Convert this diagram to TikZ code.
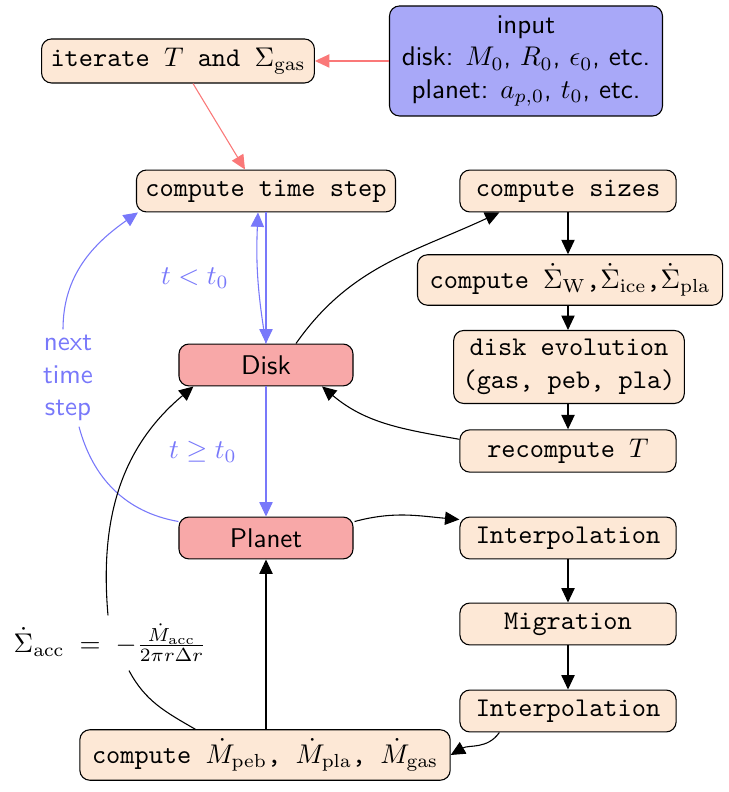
\documentclass[tikz,border=0pt]{standalone}
\usetikzlibrary{arrows.meta,calc}
\definecolor{boxorange}{RGB}{253,232,214}
\definecolor{boxred}{RGB}{248,168,168}
\definecolor{boxblue}{RGB}{168,168,248}
\definecolor{edgeblue}{RGB}{120,120,250}
\definecolor{edgered}{RGB}{250,120,120}
\tikzset{
  tip/.style={-{Triangle[length=5.3pt,width=4.9pt]}},
  obox/.style={draw, rounded corners=3.7pt, fill=boxorange, font=\ttfamily, minimum height=15.5pt, minimum width=80pt, inner sep=3.3pt, align=center},
  rbox/.style={draw, rounded corners=3.7pt, fill=boxred, font=\sffamily, minimum height=15.5pt, minimum width=64.4pt},
  bbox/.style={draw, rounded corners=3.7pt, fill=boxblue, font=\sffamily, minimum width=101pt, minimum height=40.7pt, align=center, inner sep=2pt},
  bline/.style={draw=edgeblue, tip, color=edgeblue},
  rline/.style={draw=edgered, tip, color=edgered},
  kline/.style={draw=black, tip},
  plainb/.style={draw=edgeblue},
  plaink/.style={draw=black},
}
\begin{document}
\begin{tikzpicture}[x=0.37pt,y=0.37pt]
\useasboundingbox (0,0) rectangle (728,792);
% nodes
\node[obox] (it) at (178,731) {iterate $T$ and $\Sigma_{\rm gas}$};
\node[bbox] (input) at (526,731) {input\\disk: $M_0$, $R_0$, $\epsilon_0$, etc.\\planet: $a_{p,0}$, $t_0$, etc.};
\node[obox] (cts) at (266,601) {compute time step};
\node[obox] (cs) at (568,601) {compute sizes};
\node[obox, inner xsep=4.5pt] (sd) at (570,512) {compute $\dot\Sigma_{\rm W}$,$\dot\Sigma_{\rm ice}$,$\dot\Sigma_{\rm pla}$};
\node[obox] (de) at (569,425) {disk evolution\\(gas, peb, pla)};
\node[obox] (rt) at (568,341) {recompute $T$};
\node[rbox] (disk) at (266,427) {Disk};
\node[rbox] (planet) at (266,254) {Planet};
\node[obox] (ip1) at (568,254) {Interpolation};
\node[obox] (mig) at (568,168) {Migration};
\node[obox] (ip2) at (568,81) {Interpolation};
\node[obox, minimum height=18pt, inner xsep=4.5pt] (cm) at (265,37) {compute $\dot M_{\rm peb}$, $\dot M_{\rm pla}$, $\dot M_{\rm gas}$};
\node[font=\sffamily, text=edgeblue, align=center, inner sep=2pt] (nts) at (68,414) {next\\time\\step};
\node[inner sep=3pt] (nacc) at (110,149) {$\dot\Sigma_{\rm acc}\;=\;-\frac{\dot M_{\rm acc}}{2\pi r\Delta r}$};
\node[text=edgeblue] (tlt) at (195,514) {$t<t_0$};
\node[text=edgeblue] (tge) at (203,340) {$t\geq t_0$};
% red edges
\draw[rline] (input.west) -- (it.east);
\draw[rline] ($(it.south)+(15,0)$) -- ($(cts.north)+(-21,0)$);
% blue edges
\draw[bline] (cts.south) -- (disk.north);
\draw[bline] (disk.north) to[bend left=6] ($(cts.south)+(-8,0)$);
\draw[bline] (disk.south) -- (planet.north);
\draw[plainb] ($(planet.north west)+(0,-5)$) to[out=170,in=-75] ($(nts.south)+(11,0)$);
\draw[bline] ($(nts.north)+(-5,0)$) to[out=90,in=-145] ($(cts.south west)+(2,0)$);
% black edges
\draw[kline] ($(disk.north)+(30,0)$) to[out=55,in=-155] ($(cs.south west)+(40,0)$);
\draw[kline] (cs.south) -- (cs.south |- sd.north);
\draw[kline] (cs.south |- sd.south) -- (cs.south |- de.north);
\draw[kline] (cs.south |- de.south) -- (rt.north);
\draw[kline] ($(rt.north west)+(0,-10)$) to[out=170,in=-40] ($(disk.south)+(56,0)$);
\draw[kline] ($(planet.north east)+(1,-5)$) to[out=15,in=175] ($(ip1.north west)+(0,-3)$);
\draw[kline] (ip1.south) -- (mig.north);
\draw[kline] (mig.south) -- (ip2.north);
\draw[kline] ($(ip2.south west)+(40,0)$) to[out=-125,in=30] (cm.east);
\draw[kline] (planet.south |- cm.north) -- (planet.south);
\draw[plaink] ($(cm.north west)+(116,0)$) to[out=150,in=-62] ($(nacc.south)+(19,0)$);
\draw[kline] ($(nacc.north)+(-2,0)$) to[out=95,in=-140] ($(disk.south west)+(15,0)$);
\end{tikzpicture}
\end{document}
